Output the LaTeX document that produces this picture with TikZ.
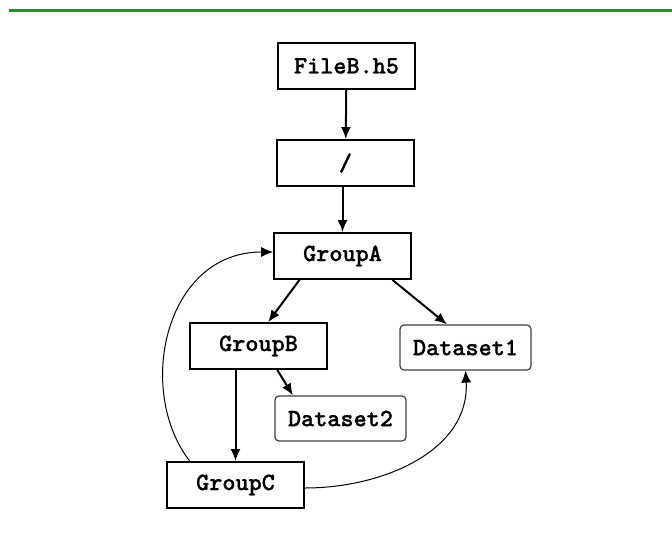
\documentclass[tikz,border=0pt]{standalone}
\usepackage{fontspec}
\newfontfamily\boxfont{lmmonolt10-bold.otf}[FakeBold=1]
\usetikzlibrary{arrows.meta,calc}
\definecolor{topgreen}{RGB}{40,140,40}
\begin{document}
\begin{tikzpicture}[x=0.5pt,y=-0.5pt,
  box/.style={draw, line width=0.9pt, minimum width=68.5pt, minimum height=23pt, inner sep=0pt,
    font=\fontsize{12.5}{14}\selectfont\boxfont},
  dbox/.style={draw=black!75, line width=0.6pt, rounded corners=2pt, minimum width=65.5pt, minimum height=22.5pt, inner sep=0pt,
    font=\fontsize{12.5}{14}\selectfont\boxfont},
  bigarrow/.style={-{Latex[length=6pt,width=5pt]}, line width=1pt},
  thinarrow/.style={-{Latex[length=6pt,width=5pt]}, line width=0.5pt}]
\useasboundingbox (0,0) rectangle (672,539);
\fill[topgreen] (9,9) rectangle (672,12);

\node[box] (file) at (346.5,66) {FileB.h5};
\node[box] (root) at (345.5,163) {/};
\node[box] (ga) at (342.5,256) {GroupA};
\node[box] (gb) at (258.5,346) {GroupB};
\node[dbox] (d1) at (465.5,347.5) {Dataset1};
\node[dbox] (d2) at (340.5,418.5) {Dataset2};
\node[box] (gc) at (235.5,485) {GroupC};

\draw[bigarrow] (file) -- (root);
\draw[bigarrow] (root.south -| ga.north) -- (ga.north);
\draw[bigarrow] ($(ga.south west)!0.19!(ga.south east)$) -- ($(gb.north west)!0.57!(gb.north east)$);
\draw[bigarrow] ($(ga.south west)!0.86!(ga.south east)$) -- ($(d1.north west)!0.36!(d1.north east)$);
\draw[bigarrow] ($(gb.south west)!0.635!(gb.south east)$) -- ($(d2.north west)!0.14!(d2.north east)$);
\draw[bigarrow] (gb.south -| gc.north) -- (gc.north);

\coordinate (gcstart) at ($(gc.north west)!0.17!(gc.north east)$);
\coordinate (gaend) at ($(ga.west)+(0,-4)$);
\draw[thinarrow] (gcstart) .. controls (135,390) and (165,252) .. (gaend);
\coordinate (gcright) at ($(gc.east)+(0,3)$);
\draw[thinarrow] (gcright) .. controls (384,488) and (470,450) .. (d1.south);
\end{tikzpicture}
\end{document}
